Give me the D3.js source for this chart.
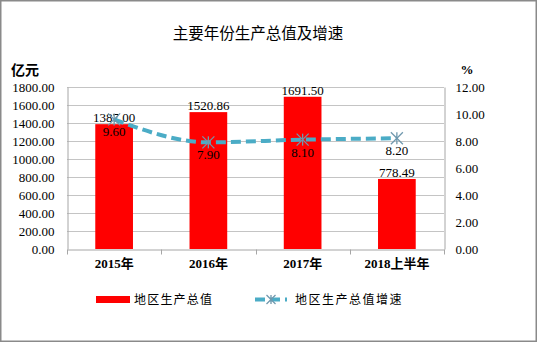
<!DOCTYPE html>
<html>
<head>
<meta charset="utf-8">
<script src="https://cdn.jsdelivr.net/npm/d3@7"></script>
<style>
  html, body { margin: 0; padding: 0; background: #fff; }
  svg { display: block; }
</style>
</head>
<body>
<svg id="chart" width="538" height="343"></svg>
<script>
const categories = ["2015年", "2016年", "2017年", "2018上半年"];
const gdpValues = [1387.00, 1520.86, 1691.50, 778.49];
const growthValues = [9.60, 7.90, 8.10, 8.20];
const leftTicks = [0, 200, 400, 600, 800, 1000, 1200, 1400, 1600, 1800];
const rightTicks = [0, 2, 4, 6, 8, 10, 12];
const titleText = "主要年份生产总值及增速";
const leftUnit = "亿元";
const rightUnit = "%";
const legendLabels = ["地区生产总值", "地区生产总值增速"];

const svg = d3.select("#chart");
const serif = "'Liberation Serif', 'Times New Roman', 'Noto Sans CJK SC', serif";
const cjk = "'Noto Sans CJK SC', sans-serif";

const plot = { left: 67, right: 444, top: 87, bottom: 249 };

// outer border
svg.append("rect")
  .attr("x", 0.75).attr("y", 0.75).attr("width", 535.5).attr("height", 340.5)
  .attr("fill", "#fff").attr("stroke", "#8a8a8a").attr("stroke-width", 1.5);

const x = d3.scaleBand().domain(categories).range([plot.left, plot.right]).paddingInner(0.6).paddingOuter(0.3);
const xOuter = d3.scaleBand().domain(categories).range([plot.left, plot.right]);
const yL = d3.scaleLinear().domain([0, 1800]).range([plot.bottom, plot.top]);
const yR = d3.scaleLinear().domain([0, 12]).range([plot.bottom, plot.top]);

// gridlines
svg.append("g").selectAll("line").data(leftTicks.slice(1)).join("line")
  .attr("x1", plot.left).attr("x2", plot.right)
  .attr("y1", d => Math.round(yL(d)) + 0.5).attr("y2", d => Math.round(yL(d)) + 0.5)
  .attr("stroke", "#c4c4c4").attr("stroke-width", 1);

// left axis
const gL = svg.append("g").attr("transform", `translate(${plot.left + 0.5},0)`)
  .call(d3.axisLeft(yL).tickValues(leftTicks).tickFormat(d3.format(".2f")).tickSize(0).tickPadding(13));
gL.select(".domain").attr("stroke", "#a6a6a6");
gL.selectAll("text").attr("font-family", serif).attr("font-size", 13).attr("fill", "#000");

// right axis
const gR = svg.append("g").attr("transform", `translate(${plot.right + 0.5},0)`)
  .call(d3.axisRight(yR).tickValues(rightTicks).tickFormat(d3.format(".2f")).tickSize(0).tickPadding(11));
gR.select(".domain").attr("stroke", "#a6a6a6");
gR.selectAll("text").attr("font-family", serif).attr("font-size", 13).attr("fill", "#000");

// bottom axis
const gB = svg.append("g").attr("transform", `translate(0,${plot.bottom + 0.5})`)
  .call(d3.axisBottom(xOuter).tickSize(0).tickPadding(9));
gB.select(".domain").attr("stroke", "#a6a6a6");
gB.selectAll("text").attr("font-family", serif).attr("font-size", 13).attr("font-weight", "bold").attr("fill", "#000");
// boundary tick marks
const bounds = categories.map(c => xOuter(c)).concat([xOuter(categories[categories.length - 1]) + xOuter.bandwidth()]);
gB.selectAll("line.bt").data(bounds).join("line").attr("class", "bt")
  .attr("x1", d => Math.round(d) + 0.5).attr("x2", d => Math.round(d) + 0.5)
  .attr("y1", 0).attr("y2", 5).attr("stroke", "#a6a6a6");

// bars
svg.append("g").selectAll("rect").data(gdpValues).join("rect")
  .attr("x", (d, i) => x(categories[i]))
  .attr("width", x.bandwidth())
  .attr("y", d => yL(d))
  .attr("height", d => yL(0) - yL(d))
  .attr("fill", "#ff0000");

// bar labels
svg.append("g").selectAll("text").data(gdpValues).join("text")
  .attr("x", (d, i) => xOuter(categories[i]) + xOuter.bandwidth() / 2)
  .attr("y", d => yL(d) - 2)
  .attr("text-anchor", "middle")
  .attr("font-family", serif).attr("font-size", 13).attr("fill", "#000")
  .text(d => d3.format(".2f")(d));

// line
const cx = (i) => xOuter(categories[i]) + xOuter.bandwidth() / 2;
const line = d3.line().x((d, i) => cx(i)).y(d => yR(d)).curve(d3.curveMonotoneX);
svg.append("path").datum(growthValues)
  .attr("d", line)
  .attr("fill", "none").attr("stroke", "#4bacc6").attr("stroke-width", 4)
  .attr("stroke-dasharray", "10,5");

// star markers
function star(g, px, py, r, color) {
  const s = g.append("g").attr("transform", `translate(${px},${py})`);
  [[-r, -r, r, r], [-r, r, r, -r], [0, -r, 0, r]].forEach(p => {
    s.append("line").attr("x1", p[0]).attr("y1", p[1]).attr("x2", p[2]).attr("y2", p[3])
      .attr("stroke", color).attr("stroke-width", 1.3);
  });
}
const mg = svg.append("g");
growthValues.forEach((d, i) => star(mg, cx(i), yR(d), 6, "#6f98ad"));

// line labels
svg.append("g").selectAll("text").data(growthValues).join("text")
  .attr("x", (d, i) => cx(i))
  .attr("y", d => yR(d) + 17)
  .attr("text-anchor", "middle")
  .attr("font-family", serif).attr("font-size", 13).attr("fill", "#000")
  .text(d => d3.format(".2f")(d));

// title
svg.append("text").attr("x", 258).attr("y", 39).attr("text-anchor", "middle")
  .attr("font-family", cjk).attr("font-size", 15.5).attr("fill", "#000")
  .text(titleText);

// units
svg.append("text").attr("x", 11).attr("y", 75)
  .attr("font-family", cjk).attr("font-size", 14).attr("font-weight", "bold").attr("fill", "#000")
  .text(leftUnit);
svg.append("text").attr("x", 467).attr("y", 74).attr("text-anchor", "middle")
  .attr("font-family", serif).attr("font-size", 13).attr("font-weight", "bold").attr("fill", "#000")
  .text(rightUnit);

// legend
const lg = svg.append("g");
lg.append("rect").attr("x", 96).attr("y", 296).attr("width", 34).attr("height", 7).attr("fill", "#ff0000");
lg.append("text").attr("x", 134).attr("y", 304)
  .attr("font-family", cjk).attr("font-size", 12).attr("letter-spacing", 1.2).attr("fill", "#000")
  .text(legendLabels[0]);
lg.append("line").attr("x1", 255).attr("x2", 287).attr("y1", 299.5).attr("y2", 299.5)
  .attr("stroke", "#4bacc6").attr("stroke-width", 4).attr("stroke-dasharray", "10,5");
star(lg, 271, 299.5, 4.5, "#6f98ad");
lg.append("text").attr("x", 295).attr("y", 304)
  .attr("font-family", cjk).attr("font-size", 12).attr("letter-spacing", 1.5).attr("fill", "#000")
  .text(legendLabels[1]);
</script>
</body>
</html>
